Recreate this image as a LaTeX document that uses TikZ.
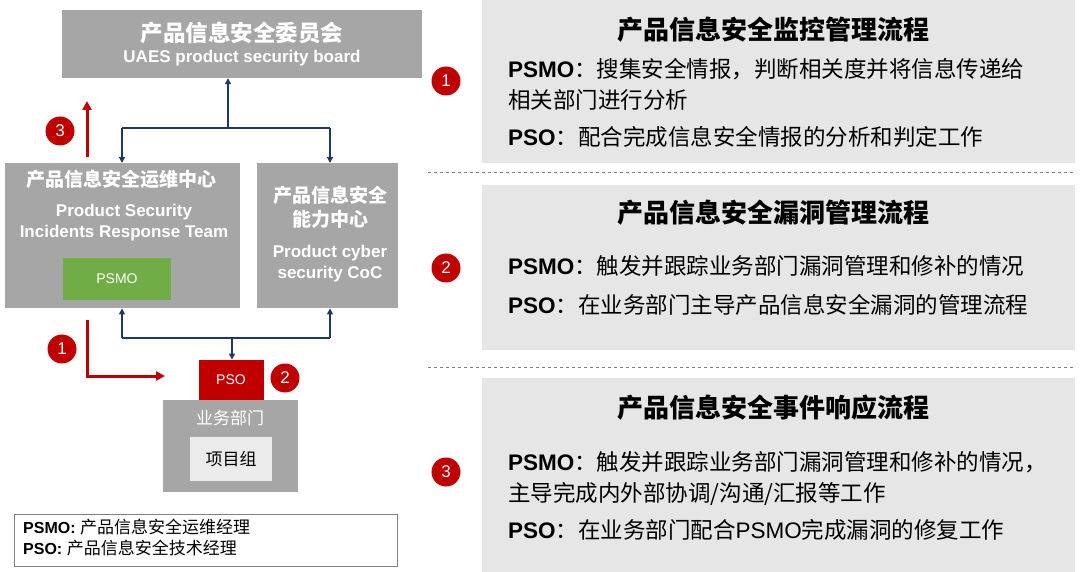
\documentclass[tikz,border=0pt]{standalone}
\usepackage{fontspec}
\setmainfont{Liberation Sans}
\newfontfamily\cjk{Noto Sans CJK SC}
\usetikzlibrary{arrows.meta}
\definecolor{boxgray}{HTML}{A6A6A6}
\definecolor{panel}{HTML}{E7E6E6}
\definecolor{navy}{HTML}{1F3864}
\definecolor{uaesred}{HTML}{C00000}
\definecolor{psmogreen}{HTML}{70AD47}
\tikzset{%
    org/.style={fill=boxgray,text=white,font=\bfseries\fontsize{17}{21}\selectfont,align=center,inner sep=0pt},
    pnl/.style={fill=panel,inner sep=0pt},
    badge/.style={circle,fill=uaesred,text=white,inner sep=0pt,minimum size=29pt,font=\fontsize{17}{17}\selectfont},
    lnk/.style={navy,line width=1.3pt,-{Triangle[length=6pt,width=6pt]}},
    alarm/.style={draw=uaesred,line width=3pt,-{Triangle[length=9pt,width=9pt,fill=uaesred]}},
    ttl/.style={font=\bfseries\cjk\fontsize{26}{30}\selectfont},
    txt/.style={anchor=north west,align=left,font=\fontsize{22.5}{31}\selectfont,text width=560pt,inner sep=0pt}
}
\begin{document}
\begin{tikzpicture}[x=1pt,y=-1pt]
    \useasboundingbox (0,0) rectangle (1080,572);
    % organisation
    \node[org,minimum width=360pt,minimum height=68pt] (board) at (242,44)
        {{\cjk\fontsize{22.5}{27}\selectfont 产品信息安全委员会}\\UAES product security board};
    \node[org,minimum width=235pt,minimum height=145pt,anchor=north west] (ops) at (5,163) {};
    \node[org,anchor=north] at (122,170) {{\cjk\fontsize{19}{22}\selectfont 产品信息安全运维中心}};
    \node[org,anchor=north] at (124,204) {Product Security\\Incidents Response Team};
    \node[fill=psmogreen,text=white,minimum width=108pt,minimum height=42pt,inner sep=0pt,
        font=\fontsize{14}{14}\selectfont] (psmo) at (117,279) {PSMO};
    \node[org,minimum width=141pt,minimum height=145pt,anchor=north west] (coc) at (257,163) {};
    \node[org,anchor=north,font=\bfseries\cjk\fontsize{19}{24}\selectfont] at (330,186) {产品信息安全\\能力中心};
    \node[org,anchor=north] at (330,245) {Product cyber\\security CoC};
    \node[fill=boxgray,minimum width=135pt,minimum height=92pt,anchor=north west,inner sep=0pt] (dept) at (163,400) {};
    \node[text=white,font=\cjk\fontsize{17}{17}\selectfont] at (230,418) {业务部门};
    \node[fill=panel!80!white,minimum width=82pt,minimum height=44pt,inner sep=0pt,
        font=\cjk\fontsize{17}{17}\selectfont] (team) at (231,459) {项目组};
    \node[fill=uaesred,text=white,minimum width=65pt,minimum height=40pt,inner sep=0pt,
        font=\fontsize{14}{14}\selectfont,anchor=south] (pso) at (231,400) {PSO};
    % links
    \coordinate (up) at (228,128);
    \coordinate (dn) at (232,338);
    \draw[navy,line width=1.3pt] (122,128) -- (330,128);
    \draw[lnk] (up) -- (board.south -| up);
    \draw[lnk] (up -| 122,0) -- (ops.north -| 122,0);
    \draw[lnk] (up -| 330,0) -- (coc.north -| 330,0);
    \draw[navy,line width=1.3pt] (122,338) -- (330,338);
    \draw[lnk] (dn -| 122,0) -- (ops.south -| 122,0);
    \draw[lnk] (dn -| 330,0) -- (coc.south -| 330,0);
    \draw[lnk] (dn) -- (pso.north -| dn);
    \coordinate (r1) at (87,320);
    \coordinate (r1e) at (165,376);
    \draw[alarm] (r1) |- (r1e);
    \coordinate (r3) at (87,157);
    \coordinate (r3e) at (87,101);
    \draw[alarm] (r3) -- (r3e);
    \node[badge] (b1) at (62,349) {1};
    \node[badge] (b3) at (60,131) {3};
    \node[badge] (b2) at (285,378) {2};
    % legend
    \node[draw=gray,line width=0.8pt,minimum width=383pt,minimum height=52pt,anchor=north west,inner sep=0pt] (leg) at (14,514) {};
    \node[anchor=north west,align=left,inner sep=0pt,font=\fontsize{16}{21}\selectfont] at (23,519)
        {\textbf{PSMO:} {\cjk\fontsize{17}{21}\selectfont 产品信息安全运维经理}\\\textbf{PSO:} {\cjk\fontsize{17}{21}\selectfont 产品信息安全技术经理}};
    % panels
    \node[pnl,minimum width=593pt,minimum height=163pt,anchor=north west] (p1) at (482,0) {};
    \node[pnl,minimum width=593pt,minimum height=165pt,anchor=north west] (p2) at (482,185) {};
    \node[pnl,minimum width=593pt,minimum height=194pt,anchor=north west] (p3) at (482,378) {};
    \draw[gray,dashed,line width=1pt] (428,173) -- (1075,173);
    \draw[gray,dashed,line width=1pt] (428,367) -- (1075,367);
    \node[badge] (c1) at (446,81) {1};
    \node[badge] (c2) at (446,268) {2};
    \node[badge] (c3) at (446,472) {3};
    \node[ttl] at (773,30) {产品信息安全监控管理流程};
    \node[ttl] at (773,213) {产品信息安全漏洞管理流程};
    \node[ttl] at (773,408) {产品信息安全事件响应流程};
    \node[txt] at (508,58) {\textbf{PSMO}{\cjk：搜集安全情报，判断相关度并将信息传递给\\相关部门进行分析}};
    \node[txt] at (508,126) {\textbf{PSO}{\cjk：配合完成信息安全情报的分析和判定工作}};
    \node[txt] at (508,255) {\textbf{PSMO}{\cjk：触发并跟踪业务部门漏洞管理和修补的情况}};
    \node[txt] at (508,294) {\textbf{PSO}{\cjk：在业务部门主导产品信息安全漏洞的管理流程}};
    \node[txt] at (508,451) {\textbf{PSMO}{\cjk：触发并跟踪业务部门漏洞管理和修补的情况，\\主导完成内外部协调/沟通/汇报等工作}};
    \node[txt] at (508,519) {\textbf{PSO}{\cjk：在业务部门配合}PSMO{\cjk 完成漏洞的修复工作}};
\end{tikzpicture}
\end{document}
